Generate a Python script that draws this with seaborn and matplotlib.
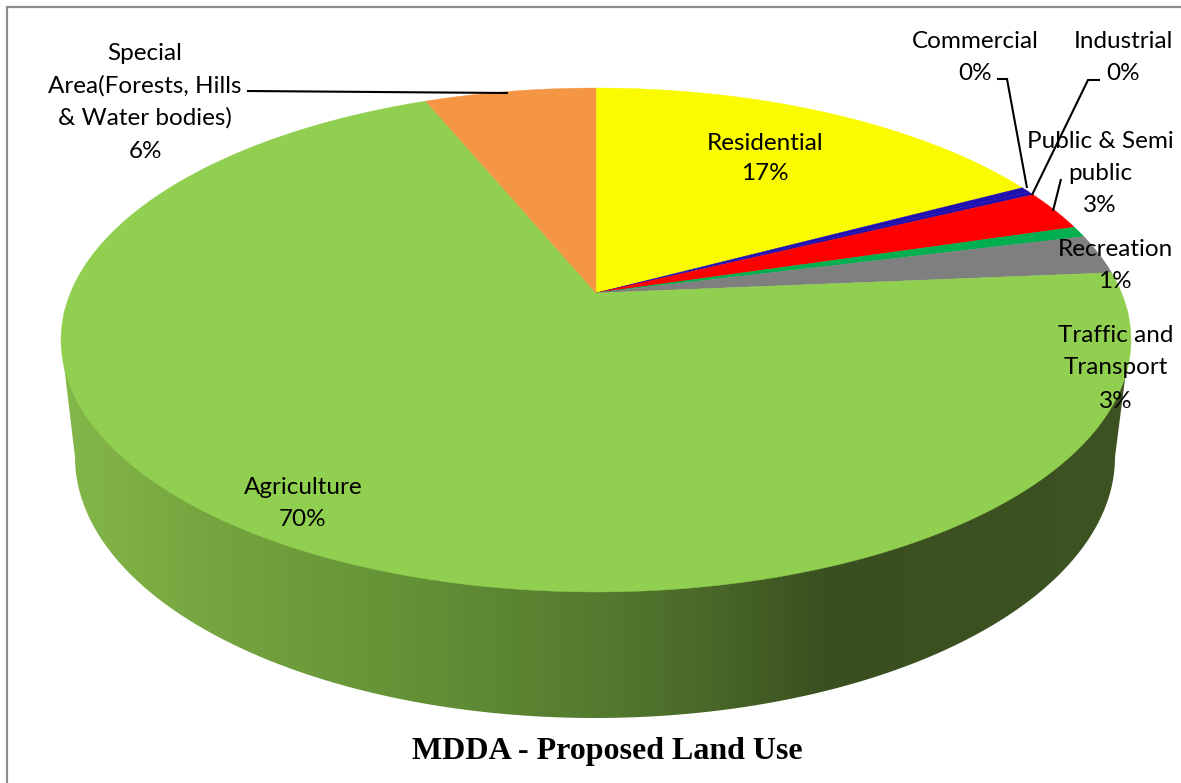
import numpy as np
import matplotlib
matplotlib.use("Agg")
import matplotlib.pyplot as plt
import seaborn as sns
from matplotlib.colors import LinearSegmentedColormap
from matplotlib.patches import Polygon
from matplotlib.path import Path
from matplotlib.transforms import Affine2D, Transform

# Slice values (percent), clockwise from 12 o'clock
land_use = ["Residential", "Commercial", "Industrial", "Public & Semi public",
            "Recreation", "Traffic and Transport", "Agriculture", "Special Area"]
shares = [17.2, 0.35, 0.25, 2.6, 0.7, 2.55, 70.15, 6.2]
slice_colors = ["#FBFB00", "#2010B0", "#2010B0", "#FF0000",
                "#00B050", "#7F7F7F", "#90CF50", "#F59644"]

# Side wall shading, left to right
wall_x = [60, 220, 380, 600, 700, 830, 1130]
wall_colors = ["#84B84A", "#75A33E", "#669538", "#557A2F", "#4A6A29", "#3A4F1F", "#3D5322"]

# Tilted pie: apex and perspective of the top face, in pixels
APEX_X, APEX_Y = 596, 293
SCALE_X, SCALE_Y, TILT = 525.6, 243.2, 0.1865


class Tilt(Transform):
    """Projects the flat unit pie onto the tilted top face."""
    input_dims = output_dims = 2
    is_affine = False

    def transform_non_affine(self, values):
        xy = np.asarray(values)
        w = 1 + TILT * xy[:, 1]
        return np.column_stack([APEX_X + SCALE_X * xy[:, 0] / w,
                                APEX_Y - SCALE_Y * xy[:, 1] / w])

    def transform_path_non_affine(self, path):
        # flatten the bezier arcs first, they do not survive a projection
        polys = path.transformed(Affine2D().scale(3000)).to_polygons(closed_only=False)
        return Path(self.transform_non_affine(polys[0] / 3000))


sns.set_theme(style="white")
plt.rcParams["font.family"] = ["Lato", "DejaVu Sans"]

fig, ax = plt.subplots(figsize=(11.81, 7.83), dpi=100)
ax.set_position([0, 0, 1, 1])

wedges, _ = ax.pie(shares, colors=sns.color_palette(slice_colors), startangle=90,
                   counterclock=False, wedgeprops={"linewidth": 0})
tilt = Tilt()
for wedge, color in zip(wedges, slice_colors):
    wedge.set_transform(tilt + ax.transData)
    wedge.set_zorder(2)
    # hairline in the slice colour closes the seams between slices
    wedge.set_edgecolor(color)
    wedge.set_linewidth(0.3)

# Side wall: gradient clipped to the outline of the lower face
theta = np.linspace(np.pi, 0, 200)
wall_outline = np.column_stack([595 + 520 * np.cos(theta), 457 + 261 * np.sin(theta)])
wall_outline = np.vstack([[61, 340], wall_outline, [1130, 340]])
wall_cmap = LinearSegmentedColormap.from_list(
    "wall", [((x - wall_x[0]) / (wall_x[-1] - wall_x[0]), c) for x, c in zip(wall_x, wall_colors)])
wall = ax.imshow(np.linspace(0, 1, 1000)[None, :], cmap=wall_cmap, aspect="auto", zorder=1,
                 extent=(wall_x[0], wall_x[-1], 783, 0))
wall.set_clip_path(Polygon(wall_outline, transform=ax.transData))

ax.set_aspect("auto")
ax.set_xlim(0, 1181)
ax.set_ylim(783, 0)
ax.axis("off")

# Leader lines
leader_kw = dict(color="black", lw=1.5, zorder=3, solid_capstyle="butt", solid_joinstyle="miter")
ax.plot([247, 508], [91, 93], **leader_kw)
ax.plot([997, 1007, 1027], [79, 79, 188], **leader_kw)
ax.plot([1100, 1088, 1032], [80, 80, 195], **leader_kw)
ax.plot([1061, 1053], [179, 211], **leader_kw)

# Data labels, one entry per text line
labels = [
    (145, 53, "Special"), (145, 86, "Area(Forests, Hills"),
    (145, 118, "& Water bodies)"), (145, 151, "6%"),
    (975, 41, "Commercial"), (975, 73, "0%"),
    (1123, 41, "Industrial"), (1123, 73, "0%"),
    (765, 143, "Residential"), (765, 174, "17%"),
    (1100, 141, "Public & Semi"), (1100, 173, "public"), (1100, 205, "3%"),
    (1115, 249, "Recreation"), (1115, 282, "1%"),
    (1116, 336, "Traffic and"), (1116, 368, "Transport"), (1116, 401, "3%"),
    (303, 487, "Agriculture"), (303, 519, "70%"),
]
for x, y, text in labels:
    ax.text(x, y, text, ha="center", va="center", fontsize=17.5, color="black", zorder=4)

ax.text(607, 752, "MDDA - Proposed Land Use", ha="center", va="center", fontsize=23,
        fontweight="bold", family="Liberation Serif", color="black", zorder=4)

# Chart border, only the top and left edges are in view
border_kw = dict(color="#8C8C8C", lw=1.6, zorder=5, clip_on=False)
ax.plot([7, 1181], [7, 7], **border_kw)
ax.plot([7, 7], [7, 783], **border_kw)

plt.savefig("out.png", dpi=100)
